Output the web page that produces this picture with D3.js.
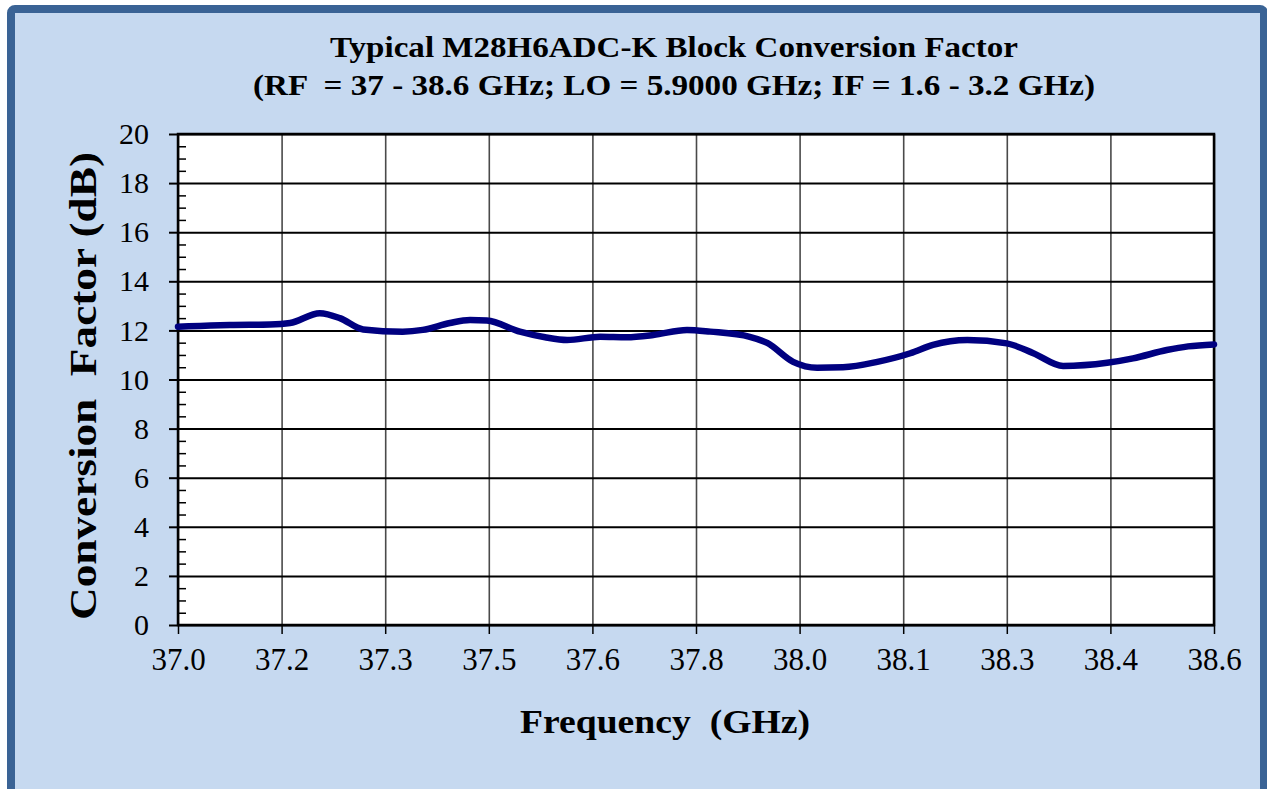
<!DOCTYPE html>
<html>
<head>
<meta charset="utf-8">
<script src="https://cdn.jsdelivr.net/npm/d3@7"></script>
<style>
  html, body { margin: 0; padding: 0; background: #fff; }
  svg { display: block; }
  text { font-family: "Liberation Serif", "Times New Roman", serif; fill: #000; }
</style>
</head>
<body>
<div id="chart"></div>
<script>
// values
const freqGHz = [37.000, 37.034, 37.080, 37.142, 37.173, 37.219, 37.250, 37.286, 37.347, 37.378,
  37.420, 37.451, 37.477, 37.528, 37.567, 37.601, 37.652, 37.693, 37.734, 37.786,
  37.822, 37.883, 37.910, 37.950, 37.987, 38.027, 38.080, 38.131, 38.166, 38.219,
  38.280, 38.321, 38.367, 38.435, 38.475, 38.527, 38.560, 38.600];
const convFactorDb = [12.15, 12.18, 12.22, 12.24, 12.30, 12.70, 12.50, 12.04, 11.95, 12.02,
  12.30, 12.42, 12.40, 11.95, 11.72, 11.61, 11.74, 11.72, 11.81, 12.02,
  11.95, 11.74, 11.49, 10.72, 10.48, 10.50, 10.72, 11.07, 11.41, 11.61,
  11.47, 11.07, 10.55, 10.68, 10.86, 11.20, 11.35, 11.43];

const xTickLabels = ['37.0', '37.2', '37.3', '37.5', '37.6', '37.8', '38.0', '38.1', '38.3', '38.4', '38.6'];
const yTickValues = [0, 2, 4, 6, 8, 10, 12, 14, 16, 18, 20];

const titleLines = [
  'Typical M28H6ADC-K Block Conversion Factor',
  '(RF  = 37 - 38.6 GHz; LO = 5.9000 GHz; IF = 1.6 - 3.2 GHz)'
];

const W = 1267, H = 789;
const plot = { left: 178, top: 134, right: 1214, bottom: 625 };
const serif = '"Liberation Serif", "Times New Roman", serif';

const svg = d3.select('#chart').append('svg')
  .attr('width', W)
  .attr('height', H);

// outer frame
svg.append('rect')
  .attr('x', 11).attr('y', 9)
  .attr('width', 1253).attr('height', 800)
  .attr('rx', 4)
  .attr('fill', '#c6d9f0')
  .attr('stroke', '#3a6395')
  .attr('stroke-width', 8);

const x = d3.scaleLinear().domain([37, 38.6]).range([plot.left, plot.right]);
const y = d3.scaleLinear().domain([0, 20]).range([plot.bottom, plot.top]);

const xTicks = xTickLabels.map((_, i) => 37 + i * 0.16);

// plot area
svg.append('rect')
  .attr('x', plot.left).attr('y', plot.top)
  .attr('width', plot.right - plot.left).attr('height', plot.bottom - plot.top)
  .attr('fill', '#fff');

// vertical grid
svg.append('g')
  .attr('transform', `translate(0,${plot.bottom})`)
  .call(d3.axisBottom(x).tickValues(xTicks).tickSize(-(plot.bottom - plot.top)).tickFormat(''))
  .call(g => g.select('.domain').remove())
  .call(g => g.selectAll('line').attr('stroke', '#4a4a4a').attr('stroke-width', 1.6));

// horizontal grid
svg.append('g')
  .attr('transform', `translate(${plot.left},0)`)
  .call(d3.axisLeft(y).tickValues(yTickValues).tickSize(-(plot.right - plot.left)).tickFormat(''))
  .call(g => g.select('.domain').remove())
  .call(g => g.selectAll('line').attr('stroke', '#000').attr('stroke-width', 2));

// minor y ticks (inside)
svg.append('g')
  .attr('transform', `translate(${plot.left},0)`)
  .call(d3.axisRight(y).tickValues(d3.range(0, 20.01, 0.5).filter(v => v % 2 !== 0)).tickSize(8).tickFormat(''))
  .call(g => g.select('.domain').remove())
  .call(g => g.selectAll('line').attr('stroke', '#000').attr('stroke-width', 1.5));

// y axis
svg.append('g')
  .attr('transform', `translate(${plot.left},0)`)
  .call(d3.axisLeft(y).tickValues(yTickValues).tickSize(9).tickPadding(20))
  .call(g => g.select('.domain').remove())
  .call(g => g.selectAll('line').attr('stroke', '#000').attr('stroke-width', 2))
  .call(g => g.selectAll('text').attr('font-size', 30).attr('fill', '#1a1a1a')
    .style('font-family', serif));

// x axis
svg.append('g')
  .attr('transform', `translate(0,${plot.bottom})`)
  .call(d3.axisBottom(x).tickValues(xTicks).tickSize(9).tickPadding(14)
    .tickFormat((d, i) => xTickLabels[i]))
  .call(g => g.select('.domain').remove())
  .call(g => g.selectAll('line').attr('stroke', '#000').attr('stroke-width', 1.5))
  .call(g => g.selectAll('text').attr('font-size', 31).attr('fill', '#1a1a1a')
    .style('font-family', serif));

// plot border
svg.append('rect')
  .attr('x', plot.left).attr('y', plot.top)
  .attr('width', plot.right - plot.left).attr('height', plot.bottom - plot.top)
  .attr('fill', 'none')
  .attr('stroke', '#000')
  .attr('stroke-width', 2.5);

// data line
const line = d3.line()
  .x((d, i) => x(freqGHz[i]))
  .y(d => y(d))
  .curve(d3.curveMonotoneX);

svg.append('path')
  .datum(convFactorDb)
  .attr('d', line)
  .attr('fill', 'none')
  .attr('stroke', '#000080')
  .attr('stroke-width', 6.5)
  .attr('stroke-linejoin', 'round')
  .attr('stroke-linecap', 'round');

// titles
svg.append('text')
  .attr('x', 674).attr('y', 57)
  .attr('text-anchor', 'middle')
  .attr('font-size', 30).attr('font-weight', 'bold')
  .attr('textLength', 688).attr('lengthAdjust', 'spacingAndGlyphs')
  .text(titleLines[0]);

svg.append('text')
  .attr('x', 674).attr('y', 95)
  .attr('text-anchor', 'middle')
  .attr('font-size', 30).attr('font-weight', 'bold')
  .attr('textLength', 842).attr('lengthAdjust', 'spacingAndGlyphs')
  .style('white-space', 'pre')
  .text(titleLines[1]);

svg.append('text')
  .attr('x', 665).attr('y', 733)
  .attr('text-anchor', 'middle')
  .attr('font-size', 34).attr('font-weight', 'bold')
  .attr('textLength', 290).attr('lengthAdjust', 'spacingAndGlyphs')
  .style('white-space', 'pre')
  .text('Frequency  (GHz)');

svg.append('text')
  .attr('transform', 'translate(96,386) rotate(-90)')
  .attr('text-anchor', 'middle')
  .attr('font-size', 37).attr('font-weight', 'bold')
  .attr('textLength', 468).attr('lengthAdjust', 'spacingAndGlyphs')
  .style('white-space', 'pre')
  .text('Conversion  Factor (dB)');
</script>
</body>
</html>
